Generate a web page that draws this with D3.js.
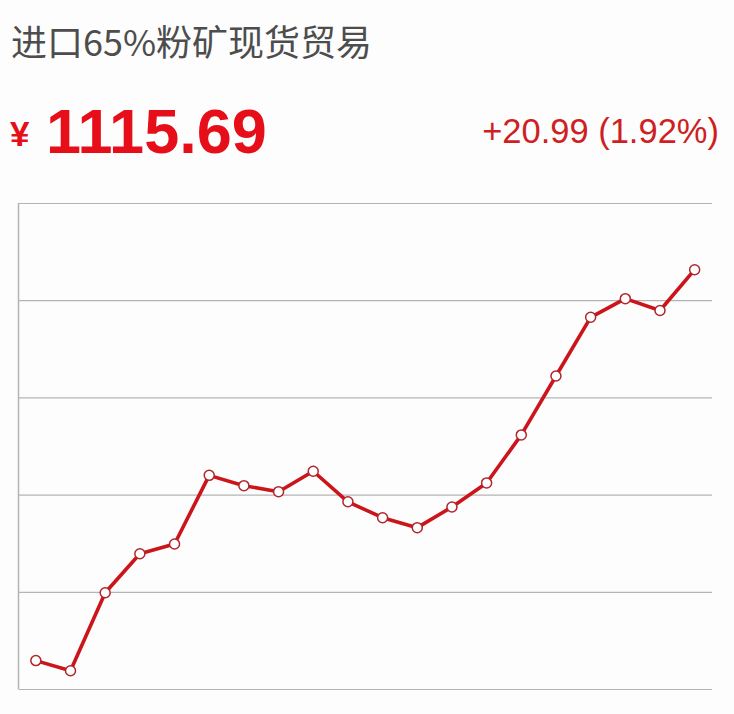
<!DOCTYPE html>
<html lang="zh">

<head>
  <meta charset="UTF-8">
  <title>进口65%粉矿现货贸易</title>
  <script src="https://d3js.org/d3.v7.min.js"></script>
  <style>
    body { margin: 0; background: #fdfdfd; }
    svg { display: block; }
  </style>
</head>

<body>
  <svg id="chart" width="734" height="714"></svg>

  <script>
    // values (20 points, last one is the current price)
    const days = d3.range(1, 21).map(String);
    const prices = [914.6, 909.4, 949.5, 969.6, 974.6, 1009.9, 1004.6, 1001.5, 1012.0, 996.3,
      988.1, 983.0, 993.6, 1006.0, 1030.7, 1061.0, 1091.2, 1100.8, 1094.70, 1115.69];
    const gridTicks = [900, 950, 1000, 1050, 1100, 1150];

    const titleText = "进口65%粉矿现货贸易";
    const priceText = "1115.69";
    const changeText = "+20.99 (1.92%)";

    const svg = d3.select("#chart");
    const margin = { top: 203, right: 22, bottom: 25, left: 18.5 };
    const width = +svg.attr("width");
    const height = +svg.attr("height");

    // header
    svg.append("text")
      .attr("x", 11)
      .attr("y", 56)
      .attr("font-family", "'Noto Sans CJK SC', sans-serif")
      .attr("font-size", 36)
      .attr("fill", "#4d4d4d")
      .text(titleText);

    svg.append("text")
      .attr("x", 10)
      .attr("y", 146)
      .attr("font-family", "'Liberation Sans', Arial, sans-serif")
      .attr("font-weight", "bold")
      .attr("font-size", 35)
      .attr("fill", "#e60f19")
      .text("¥");

    svg.append("text")
      .attr("x", 46)
      .attr("y", 153)
      .attr("font-family", "'Liberation Sans', Arial, sans-serif")
      .attr("font-weight", "bold")
      .attr("font-size", 63)
      .attr("fill", "#e60f19")
      .text(priceText);

    svg.append("text")
      .attr("x", 719)
      .attr("y", 143)
      .attr("text-anchor", "end")
      .attr("font-family", "'Liberation Sans', Arial, sans-serif")
      .attr("font-size", 34.5)
      .attr("fill", "#cf1f22")
      .text(changeText);

    // scales
    const x = d3.scalePoint()
      .domain(days)
      .range([margin.left, width - margin.right])
      .padding(0.5);

    const y = d3.scaleLinear()
      .domain([900, 1150])
      .range([height - margin.bottom, margin.top]);

    // grid lines
    const yAxis = d3.axisLeft(y)
      .tickValues(gridTicks)
      .tickSize(-(width - margin.right - margin.left))
      .tickFormat("");

    const grid = svg.append("g")
      .attr("transform", `translate(${margin.left},0)`)
      .call(yAxis);
    grid.selectAll(".tick line")
      .attr("stroke", "#b4b4b4")
      .attr("stroke-width", 1.2);
    grid.select(".domain")
      .attr("stroke", "#b4b4b4")
      .attr("stroke-width", 1.5)
      .attr("d", `M0,${y(1150)}V${y(900)}`);

    // price line
    const line = d3.line()
      .x((d, i) => x(days[i]))
      .y(d => y(d));

    svg.append("path")
      .datum(prices)
      .attr("fill", "none")
      .attr("stroke", "#cc141b")
      .attr("stroke-width", 3.6)
      .attr("stroke-linejoin", "round")
      .attr("d", line);

    svg.selectAll("circle.dot")
      .data(prices)
      .join("circle")
      .attr("class", "dot")
      .attr("cx", (d, i) => x(days[i]))
      .attr("cy", d => y(d))
      .attr("r", 5)
      .attr("fill", "#ffffff")
      .attr("stroke", "#b0262c")
      .attr("stroke-width", 1.5);
  </script>

</body>

</html>
